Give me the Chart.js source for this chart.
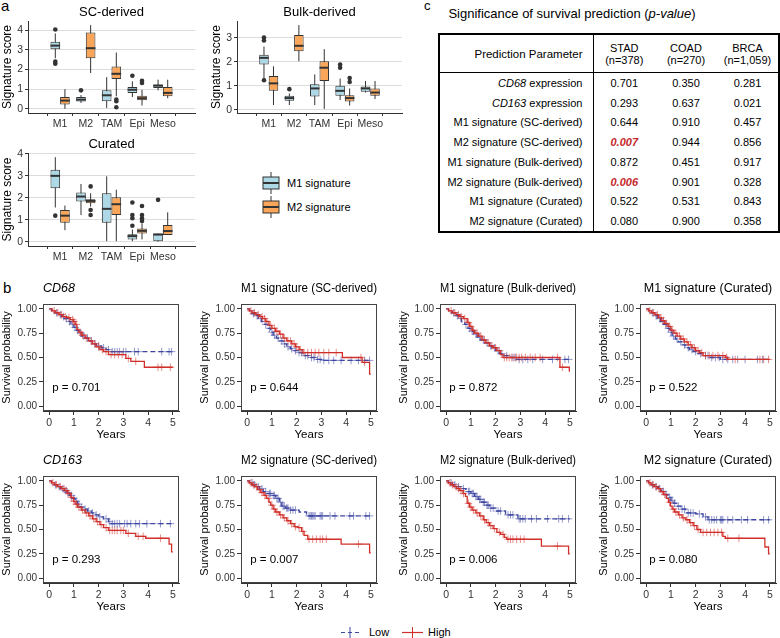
<!DOCTYPE html>
<html>
<head>
<meta charset="utf-8">
<script src="https://cdn.jsdelivr.net/npm/chart.js@4.4.1/dist/chart.umd.min.js"></script>
<style>
  body { margin: 0; background: #fff; font-family: 'Liberation Sans', Arial, Helvetica, sans-serif; }
  #fig { position: relative; width: 780px; height: 638px; overflow: hidden; background: #fff; color: #000; }
  #fig canvas { position: absolute; }
  .abs { position: absolute; white-space: nowrap; }
  .panel { font-size: 15px; }
  #tblTitle { left: 420px; top: 6px; width: 304px; text-align: center; font-size: 13px; }
  #tbl { position: absolute; left: 438px; top: 33px; width: 340px; height: 197px; border-collapse: collapse;
         border: 2px solid #000; font-size: 11px; table-layout: fixed; }
  #tbl td { padding: 0; text-align: center; height: 19.75px; }
  #tbl tr.hd td { height: 37px; border-bottom: 1.5px solid #000; line-height: 12px; }
  #tbl tr.hd td.par { font-size: 11.5px; }
  #tbl td.par { text-align: right; padding-right: 10px; border-right: 1.5px solid #000; }
  #tbl .sig { color: #c4282c; font-weight: bold; font-style: italic; }
  .leg { font-size: 11px; }
</style>
</head>
<body>
<div id="fig">
  <div class="abs panel" style="left:1px;top:-3px;">a</div>
  <div class="abs panel" style="left:3px;top:279px;">b</div>
  <div class="abs panel" style="left:424px;top:-2px;font-size:13px;">c</div>

  <canvas id="boxSC" width="199" height="133" style="left:0px;top:0px;"></canvas>
  <canvas id="boxBulk" width="197" height="133" style="left:209px;top:0px;"></canvas>
  <canvas id="boxCur" width="199" height="134" style="left:0px;top:132px;"></canvas>

  <!-- legend of panel a -->
  <svg class="abs" style="left:261px;top:172px;" width="20" height="22">
    <line x1="10" y1="0" x2="10" y2="22" stroke="#333" stroke-width="1"/>
    <rect x="2" y="5" width="16" height="12" fill="#add8e6" stroke="#333" stroke-width="1"/>
    <line x1="2" y1="11" x2="18" y2="11" stroke="#333" stroke-width="2"/>
  </svg>
  <div class="abs leg" style="left:287px;top:177px;">M1 signature</div>
  <svg class="abs" style="left:261px;top:196px;" width="20" height="22">
    <line x1="10" y1="0" x2="10" y2="22" stroke="#333" stroke-width="1"/>
    <rect x="2" y="5" width="16" height="12" fill="#f9a65a" stroke="#333" stroke-width="1"/>
    <line x1="2" y1="11" x2="18" y2="11" stroke="#333" stroke-width="2"/>
  </svg>
  <div class="abs leg" style="left:287px;top:201px;">M2 signature</div>

  <!-- panel c -->
  <div id="tblTitle" class="abs">Significance of survival prediction (<i>p-value</i>)</div>
  <table id="tbl">
    <colgroup><col style="width:154px"><col style="width:62px"><col style="width:62px"><col style="width:62px"></colgroup>
    <tr class="hd"><td class="par">Prediction Parameter</td><td>STAD<br>(n=378)</td><td>COAD<br>(n=270)</td><td>BRCA<br>(n=1,059)</td></tr>
    <tr><td class="par"><i>CD68</i> expression</td><td>0.701</td><td>0.350</td><td>0.281</td></tr>
    <tr><td class="par"><i>CD163</i> expression</td><td>0.293</td><td>0.637</td><td>0.021</td></tr>
    <tr><td class="par">M1 signature (SC-derived)</td><td>0.644</td><td>0.910</td><td>0.457</td></tr>
    <tr><td class="par">M2 signature (SC-derived)</td><td><span class="sig">0.007</span></td><td>0.944</td><td>0.856</td></tr>
    <tr><td class="par">M1 signature (Bulk-derived)</td><td>0.872</td><td>0.451</td><td>0.917</td></tr>
    <tr><td class="par">M2 signature (Bulk-derived)</td><td><span class="sig">0.006</span></td><td>0.901</td><td>0.328</td></tr>
    <tr><td class="par">M1 signature (Curated)</td><td>0.522</td><td>0.531</td><td>0.843</td></tr>
    <tr><td class="par">M2 signature (Curated)</td><td>0.080</td><td>0.900</td><td>0.358</td></tr>
  </table>

  <!-- panel b -->
  <canvas id="km1" width="184" height="162" style="left:0px;top:280px;"></canvas>
  <canvas id="km2" width="184" height="162" style="left:198px;top:280px;"></canvas>
  <canvas id="km3" width="184" height="162" style="left:397px;top:280px;"></canvas>
  <canvas id="km4" width="184" height="162" style="left:597px;top:280px;"></canvas>
  <canvas id="km5" width="184" height="162" style="left:0px;top:452px;"></canvas>
  <canvas id="km6" width="184" height="162" style="left:198px;top:452px;"></canvas>
  <canvas id="km7" width="184" height="162" style="left:397px;top:452px;"></canvas>
  <canvas id="km8" width="184" height="162" style="left:597px;top:452px;"></canvas>

  <!-- bottom legend -->
  <svg class="abs" style="left:341px;top:627px;" width="18" height="11">
    <line x1="0" y1="5.5" x2="18" y2="5.5" stroke="#3c46a0" stroke-width="1.2" stroke-dasharray="4,3"/>
    <line x1="9" y1="0" x2="9" y2="11" stroke="#3c46a0" stroke-width="1"/>
  </svg>
  <div class="abs leg" style="left:369px;top:626px;">Low</div>
  <svg class="abs" style="left:402px;top:627px;" width="21" height="11">
    <line x1="0" y1="5.5" x2="21" y2="5.5" stroke="#d1302a" stroke-width="1.2"/>
    <line x1="10.5" y1="0" x2="10.5" y2="11" stroke="#d1302a" stroke-width="1"/>
  </svg>
  <div class="abs leg" style="left:428px;top:626px;">High</div>
</div>

<script>
// ---------- panel a : box plots ----------
const boxCats = ['M1', 'M2', 'TAM', 'Epi', 'Meso'];
// each entry: [lower whisker, Q1, median, Q3, upper whisker]
const scM1Box = [[2.57, 3.03, 3.21, 3.41, 3.83], [0.30, 0.38, 0.47, 0.60, 0.70], [0.05, 0.39, 0.69, 0.94, 1.61], [0.60, 0.80, 0.97, 1.11, 1.40], [0.94, 1.06, 1.18, 1.24, 1.48]];
const scM1Out = [[4.03, 2.40, 2.29], [0.94], [], [1.68], []];
const scM2Box = [[0.00, 0.22, 0.42, 0.60, 1.00], [1.82, 2.57, 3.08, 3.88, 4.25], [0.64, 1.51, 1.78, 2.15, 2.86], [0.17, 0.44, 0.54, 0.66, 0.97], [0.54, 0.64, 0.81, 1.11, 1.48]];
const scM2Out = [[], [], [0.47, 0.39, 0.08], [1.43, 1.31], []];

const bulkM1Box = [[1.27, 1.88, 2.16, 2.29, 2.63], [0.20, 0.38, 0.49, 0.59, 0.68], [0.20, 0.56, 0.89, 1.06, 1.47], [0.41, 0.59, 0.79, 1.00, 1.30], [0.72, 0.75, 0.89, 0.97, 1.20]];
const bulkM1Out = [[3.00, 2.88, 1.23], [0.86], [], [1.88, 1.75], []];
const bulkM2Box = [[0.20, 0.79, 1.10, 1.41, 1.81], [2.02, 2.43, 2.66, 3.11, 3.52], [0.04, 1.20, 1.75, 2.02, 2.52], [0.18, 0.35, 0.49, 0.61, 0.89], [0.45, 0.59, 0.72, 0.89, 1.20]];
const bulkM2Out = [[], [], [], [1.32, 1.16], []];

const curM1Box = [[1.56, 2.44, 3.00, 3.28, 3.85], [1.22, 1.83, 2.06, 2.24, 2.63], [0.03, 0.87, 1.50, 2.21, 2.98], [0.03, 0.11, 0.26, 0.34, 0.56], [0.00, 0.00, 0.33, 0.38, 0.38]];
const curM1Out = [[1.19], [], [], [1.79, 1.22, 1.07, 0.73], [1.91]];
const curM2Box = [[0.53, 0.87, 1.19, 1.45, 1.65], [1.60, 1.76, 1.86, 1.94, 2.21], [0.03, 1.22, 1.71, 2.03, 2.37], [0.11, 0.38, 0.50, 0.61, 0.84], [0.31, 0.31, 0.49, 0.76, 1.34]];
const curM2Out = [[], [2.52, 1.45, 1.22], [], [1.63, 1.22, 1.07, 0.95], []];

// ---------- panel b : Kaplan-Meier curves (step times / survival after step / censor times) ----------
const cd68HighT = [0, 0.12, 0.25, 0.4, 0.55, 0.7, 0.85, 0.98, 1.05, 1.12, 1.2, 1.3, 1.45, 1.6, 1.75, 1.9, 2.05, 2.2, 2.4, 3.1, 3.3, 3.85, 5.0];
const cd68HighS = [1, 0.98, 0.96, 0.94, 0.92, 0.91, 0.89, 0.87, 0.84, 0.79, 0.76, 0.73, 0.70, 0.67, 0.64, 0.61, 0.58, 0.56, 0.53, 0.49, 0.46, 0.40, 0.40];
const cd68HighC = [0.2, 0.35, 0.5, 0.65, 0.8, 0.95, 1.0, 1.1, 1.25, 1.35, 1.5, 1.7, 1.85, 2.0, 2.15, 2.3, 2.5, 2.65, 2.8, 2.95, 3.2, 3.5, 4.4, 4.55, 4.9];
const cd68LowT = [0, 0.1, 0.22, 0.35, 0.5, 0.62, 0.75, 0.88, 1.0, 1.1, 1.2, 1.32, 1.45, 1.6, 1.75, 1.9, 2.1, 2.3, 2.5, 5.0];
const cd68LowS = [1, 0.98, 0.96, 0.94, 0.92, 0.90, 0.87, 0.84, 0.81, 0.78, 0.75, 0.72, 0.70, 0.67, 0.64, 0.62, 0.60, 0.58, 0.56, 0.56];
const cd68LowC = [0.3, 0.45, 0.58, 0.7, 0.82, 0.95, 1.05, 1.15, 1.28, 1.4, 1.55, 1.7, 1.85, 2.0, 2.2, 2.4, 2.55, 2.65, 2.75, 2.85, 3.0, 3.1, 3.45, 3.6, 4.55, 4.85, 4.95];

const m1scHighT = [0, 0.08, 0.2, 0.35, 0.5, 0.62, 0.75, 0.88, 1.0, 1.15, 1.3, 1.45, 1.6, 1.8, 1.95, 2.1, 2.25, 3.85, 4.65, 4.95, 5.0];
const m1scHighS = [1, 0.98, 0.96, 0.94, 0.92, 0.90, 0.87, 0.83, 0.80, 0.77, 0.74, 0.70, 0.67, 0.64, 0.61, 0.58, 0.55, 0.50, 0.45, 0.33, 0.33];
const m1scHighC = [0.15, 0.3, 0.45, 0.6, 0.7, 0.8, 0.95, 1.1, 1.2, 1.35, 1.5, 1.65, 1.75, 1.9, 2.0, 2.15, 2.3, 2.45, 2.6, 2.75, 2.9, 3.1, 3.3, 3.6, 4.6, 4.75];
const m1scLowT = [0, 0.1, 0.2, 0.32, 0.45, 0.58, 0.7, 0.82, 0.95, 1.05, 1.18, 1.3, 1.45, 1.6, 1.75, 1.9, 2.05, 2.25, 2.5, 2.75, 3.0, 5.0];
const m1scLowS = [1, 0.98, 0.95, 0.93, 0.90, 0.87, 0.84, 0.80, 0.76, 0.73, 0.70, 0.67, 0.64, 0.61, 0.59, 0.57, 0.55, 0.52, 0.50, 0.48, 0.47, 0.47];
const m1scLowC = [0.25, 0.4, 0.55, 0.75, 0.9, 1.0, 1.1, 1.25, 1.4, 1.5, 1.65, 1.8, 1.95, 2.1, 2.2, 2.35, 2.45, 2.6, 2.7, 2.85, 2.95, 3.1, 3.3, 3.5, 3.8, 4.2, 4.5, 4.75, 4.95];

const m1bkHighT = [0, 0.1, 0.25, 0.4, 0.55, 0.7, 0.85, 0.95, 1.05, 1.15, 1.3, 1.45, 1.6, 1.75, 1.9, 2.05, 2.2, 2.3, 4.6, 4.98, 5.0];
const m1bkHighS = [1, 0.98, 0.96, 0.94, 0.92, 0.90, 0.86, 0.82, 0.78, 0.75, 0.72, 0.68, 0.65, 0.62, 0.60, 0.57, 0.53, 0.50, 0.40, 0.36, 0.36];
const m1bkHighC = [0.2, 0.35, 0.5, 0.6, 0.75, 0.9, 1.0, 1.1, 1.25, 1.4, 1.55, 1.7, 1.85, 2.0, 2.15, 2.35, 2.45, 2.55, 2.65, 2.75, 2.85, 2.95, 3.05, 3.2, 3.4, 3.6, 3.8, 4.5, 4.7];
const m1bkLowT = [0, 0.1, 0.22, 0.35, 0.5, 0.62, 0.75, 0.88, 1.0, 1.12, 1.25, 1.4, 1.55, 1.7, 1.85, 2.0, 2.15, 2.35, 2.6, 2.85, 5.0];
const m1bkLowS = [1, 0.98, 0.96, 0.93, 0.90, 0.87, 0.84, 0.80, 0.77, 0.74, 0.71, 0.68, 0.65, 0.62, 0.60, 0.57, 0.54, 0.52, 0.50, 0.48, 0.48];
const m1bkLowC = [0.3, 0.45, 0.6, 0.8, 0.95, 1.05, 1.2, 1.35, 1.5, 1.65, 1.8, 1.95, 2.1, 2.25, 2.45, 2.7, 2.8, 2.95, 3.1, 3.3, 3.5, 3.9, 4.3, 4.8, 4.95];

const m1cuHighT = [0, 0.1, 0.22, 0.35, 0.5, 0.62, 0.75, 0.88, 1.0, 1.12, 1.25, 1.4, 1.55, 1.7, 1.85, 2.0, 2.15, 2.3, 3.2, 3.3, 5.0];
const m1cuHighS = [1, 0.98, 0.96, 0.94, 0.91, 0.88, 0.85, 0.82, 0.78, 0.75, 0.72, 0.69, 0.66, 0.63, 0.60, 0.57, 0.55, 0.52, 0.50, 0.48, 0.48];
const m1cuHighC = [0.15, 0.3, 0.45, 0.6, 0.7, 0.8, 0.95, 1.05, 1.2, 1.35, 1.5, 1.65, 1.8, 1.95, 2.1, 2.25, 2.4, 2.55, 2.7, 2.9, 3.1, 3.25, 3.6, 4.6, 4.75, 4.95];
const m1cuLowT = [0, 0.1, 0.2, 0.32, 0.45, 0.58, 0.7, 0.82, 0.95, 1.05, 1.18, 1.3, 1.45, 1.6, 1.75, 1.9, 2.05, 2.3, 2.6, 3.0, 5.0];
const m1cuLowS = [1, 0.98, 0.96, 0.93, 0.90, 0.87, 0.84, 0.80, 0.76, 0.72, 0.69, 0.66, 0.63, 0.60, 0.58, 0.56, 0.54, 0.52, 0.50, 0.48, 0.48];
const m1cuLowC = [0.25, 0.4, 0.55, 0.68, 0.8, 0.9, 1.0, 1.1, 1.25, 1.4, 1.55, 1.7, 1.85, 2.0, 2.2, 2.4, 2.5, 2.65, 2.8, 2.95, 3.1, 3.3, 3.5, 3.7, 4.0, 4.5, 4.7];

const cd163HighT = [0, 0.1, 0.22, 0.35, 0.5, 0.62, 0.75, 0.88, 0.98, 1.05, 1.15, 1.3, 1.45, 1.6, 1.75, 1.9, 2.05, 2.2, 2.4, 3.1, 3.5, 3.9, 4.85, 4.95, 5.0];
const cd163HighS = [1, 0.98, 0.96, 0.94, 0.92, 0.90, 0.87, 0.83, 0.79, 0.76, 0.73, 0.70, 0.67, 0.64, 0.61, 0.58, 0.55, 0.52, 0.49, 0.46, 0.43, 0.41, 0.35, 0.27, 0.27];
const cd163HighC = [0.15, 0.3, 0.45, 0.6, 0.7, 0.8, 0.9, 1.0, 1.1, 1.2, 1.35, 1.5, 1.65, 1.8, 1.95, 2.1, 2.3, 2.45, 2.55, 2.65, 2.75, 2.9, 3.0, 3.2, 3.6, 3.8, 4.5];
const cd163LowT = [0, 0.1, 0.2, 0.32, 0.45, 0.58, 0.7, 0.82, 0.95, 1.05, 1.15, 1.25, 1.4, 1.55, 1.7, 1.85, 2.0, 2.2, 2.4, 2.5, 5.0];
const cd163LowS = [1, 0.98, 0.96, 0.94, 0.92, 0.90, 0.88, 0.85, 0.82, 0.79, 0.76, 0.73, 0.71, 0.69, 0.67, 0.65, 0.63, 0.61, 0.58, 0.56, 0.56];
const cd163LowC = [0.25, 0.4, 0.55, 0.65, 0.75, 0.9, 1.0, 1.1, 1.2, 1.3, 1.45, 1.6, 1.75, 1.9, 2.05, 2.3, 2.45, 2.55, 2.65, 2.75, 2.85, 3.05, 3.15, 3.3, 3.5, 3.65, 3.95, 4.5, 4.9];

const m2scHighT = [0, 0.08, 0.18, 0.3, 0.42, 0.55, 0.68, 0.78, 0.88, 0.95, 1.05, 1.15, 1.3, 1.45, 1.6, 1.75, 1.9, 2.05, 2.2, 2.3, 2.45, 3.8, 4.95, 5.0];
const m2scHighS = [1, 0.98, 0.96, 0.94, 0.91, 0.88, 0.85, 0.82, 0.78, 0.75, 0.71, 0.68, 0.65, 0.62, 0.59, 0.56, 0.53, 0.52, 0.48, 0.44, 0.40, 0.35, 0.26, 0.26];
const m2scHighC = [0.15, 0.25, 0.38, 0.5, 0.6, 0.72, 0.85, 1.0, 1.1, 1.2, 1.35, 1.5, 1.65, 1.8, 1.95, 2.1, 2.25, 2.5, 2.65, 2.8, 2.95, 3.05, 3.2, 4.5];
const m2scLowT = [0, 0.1, 0.22, 0.35, 0.5, 0.65, 0.8, 1.0, 1.15, 1.3, 1.4, 1.55, 1.7, 2.1, 2.4, 5.0];
const m2scLowS = [1, 0.98, 0.96, 0.94, 0.92, 0.89, 0.87, 0.85, 0.82, 0.78, 0.74, 0.72, 0.70, 0.68, 0.64, 0.64];
const m2scLowC = [0.2, 0.3, 0.45, 0.6, 0.75, 0.9, 0.95, 1.05, 1.1, 1.2, 1.25, 1.35, 1.45, 1.5, 1.6, 1.65, 1.75, 1.85, 1.95, 2.5, 2.55, 2.6, 2.65, 2.7, 2.75, 2.95, 3.0, 3.05, 3.35, 3.55, 4.15, 4.3, 4.8, 4.95];

const m2bkHighT = [0, 0.08, 0.18, 0.3, 0.42, 0.55, 0.68, 0.78, 0.85, 0.95, 1.05, 1.2, 1.35, 1.5, 1.62, 1.75, 1.9, 2.05, 2.2, 2.35, 2.45, 3.85, 4.95, 5.0];
const m2bkHighS = [1, 0.98, 0.96, 0.94, 0.92, 0.90, 0.87, 0.84, 0.77, 0.73, 0.70, 0.67, 0.64, 0.60, 0.57, 0.54, 0.51, 0.47, 0.45, 0.42, 0.40, 0.33, 0.25, 0.25];
const m2bkHighC = [0.15, 0.25, 0.4, 0.5, 0.6, 0.7, 0.9, 1.0, 1.1, 1.25, 1.4, 1.55, 1.7, 1.8, 1.95, 2.15, 2.3, 2.5, 2.6, 2.7, 2.85, 3.0, 3.15, 4.5];
const m2bkLowT = [0, 0.1, 0.25, 0.4, 0.6, 0.8, 1.0, 1.15, 1.3, 1.45, 1.6, 1.75, 2.0, 2.4, 2.9, 5.0];
const m2bkLowS = [1, 0.98, 0.96, 0.94, 0.92, 0.89, 0.87, 0.84, 0.81, 0.78, 0.75, 0.72, 0.69, 0.65, 0.61, 0.61];
const m2bkLowC = [0.2, 0.35, 0.5, 0.7, 0.9, 0.95, 1.05, 1.1, 1.2, 1.25, 1.35, 1.4, 1.5, 1.55, 1.65, 1.7, 1.8, 1.9, 2.1, 2.2, 2.5, 2.6, 2.7, 2.95, 3.0, 3.1, 3.2, 3.45, 3.65, 4.1, 4.55, 4.7, 4.95];

const m2cuHighT = [0, 0.1, 0.2, 0.32, 0.45, 0.58, 0.7, 0.82, 0.9, 0.98, 1.05, 1.15, 1.3, 1.45, 1.6, 1.75, 1.9, 2.05, 2.2, 3.1, 3.2, 4.8, 4.95, 5.0];
const m2cuHighS = [1, 0.98, 0.96, 0.94, 0.92, 0.89, 0.86, 0.82, 0.78, 0.74, 0.71, 0.68, 0.65, 0.62, 0.60, 0.57, 0.54, 0.50, 0.47, 0.43, 0.41, 0.32, 0.25, 0.25];
const m2cuHighC = [0.15, 0.28, 0.4, 0.52, 0.65, 0.75, 0.95, 1.1, 1.2, 1.35, 1.5, 1.65, 1.8, 1.95, 2.1, 2.3, 2.45, 2.6, 2.75, 2.9, 3.05, 3.3, 3.75];
const m2cuLowT = [0, 0.1, 0.22, 0.35, 0.5, 0.62, 0.75, 0.88, 1.0, 1.12, 1.25, 1.4, 1.6, 2.0, 2.3, 2.5, 5.0];
const m2cuLowS = [1, 0.98, 0.96, 0.94, 0.92, 0.89, 0.86, 0.83, 0.80, 0.77, 0.74, 0.71, 0.67, 0.66, 0.63, 0.60, 0.60];
const m2cuLowC = [0.25, 0.4, 0.55, 0.7, 0.8, 0.95, 1.05, 1.15, 1.3, 1.45, 1.55, 1.7, 1.8, 1.9, 2.15, 2.4, 2.55, 2.65, 2.75, 2.85, 3.0, 3.05, 3.1, 3.3, 3.5, 3.85, 4.1, 4.75, 4.95];

// ---------- styling ----------
const FONT = "'Liberation Sans', Arial, Helvetica, sans-serif";
const M1_FILL = '#add8e6';
const M2_FILL = '#f9a65a';
const RED = '#d1302a';
const BLUE = '#3c46a0';
const RED_CENS = 'rgba(209, 48, 42, 0.55)';
const BLUE_CENS = 'rgba(60, 70, 160, 0.55)';
Chart.defaults.font.family = FONT;
Chart.defaults.color = '#333';

// whiskers, medians and outliers drawn around the native floating bars (the boxes)
const boxExtras = {
    id: 'boxExtras',
    beforeDatasetsDraw(chart) {
        const ctx = chart.ctx, y = chart.scales.y;
        chart.data.datasets.forEach((ds, di) => {
            chart.getDatasetMeta(di).data.forEach((bar, i) => {
                const st = ds.stats[i];
                ctx.save();
                ctx.strokeStyle = '#333';
                ctx.lineWidth = 1;
                ctx.beginPath();
                ctx.moveTo(bar.x, y.getPixelForValue(st[0]));
                ctx.lineTo(bar.x, y.getPixelForValue(st[4]));
                ctx.stroke();
                ctx.restore();
            });
        });
    },
    afterDatasetsDraw(chart) {
        const ctx = chart.ctx, y = chart.scales.y;
        chart.data.datasets.forEach((ds, di) => {
            chart.getDatasetMeta(di).data.forEach((bar, i) => {
                const st = ds.stats[i];
                ctx.save();
                ctx.strokeStyle = '#333';
                ctx.lineWidth = 2;
                ctx.beginPath();
                ctx.moveTo(bar.x - bar.width / 2, y.getPixelForValue(st[2]));
                ctx.lineTo(bar.x + bar.width / 2, y.getPixelForValue(st[2]));
                ctx.stroke();
                ctx.fillStyle = '#333';
                ds.outs[i].forEach(v => {
                    ctx.beginPath();
                    ctx.arc(bar.x, y.getPixelForValue(v), 2.3, 0, Math.PI * 2);
                    ctx.fill();
                });
                ctx.restore();
            });
        });
    }
};

function makeBoxChart(id, title, m1Box, m1Out, m2Box, m2Out, yMin, yMax) {
    const toBars = arr => arr.map((b, i) => ({ x: i + 1, y: [b[1], b[3]] }));
    new Chart(document.getElementById(id), {
        type: 'bar',
        data: {
            datasets: [
                { label: 'M1 signature', data: toBars(m1Box), stats: m1Box, outs: m1Out,
                  backgroundColor: M1_FILL, borderColor: '#333', borderWidth: 1, borderSkipped: false },
                { label: 'M2 signature', data: toBars(m2Box), stats: m2Box, outs: m2Out,
                  backgroundColor: M2_FILL, borderColor: '#333', borderWidth: 1, borderSkipped: false }
            ]
        },
        options: {
            responsive: false,
            animation: false,
            layout: { padding: { left: 0, right: 4, top: 0, bottom: 0 } },
            datasets: { bar: { categoryPercentage: 0.75, barPercentage: 1 } },
            plugins: {
                legend: { display: false },
                tooltip: { enabled: false },
                title: { display: true, text: title, fullSize: false, color: '#000',
                         font: { size: 13, weight: 'normal' }, padding: { top: 5, bottom: 0.4 } }
            },
            scales: {
                x: {
                    type: 'linear', min: 0.4, max: 5.6,
                    afterFit: s => { s.height = 20; },
                    grid: { drawOnChartArea: false, tickLength: 3, color: '#333' },
                    border: { color: '#333' },
                    ticks: { stepSize: 1, includeBounds: false, autoSkip: false, maxRotation: 0, padding: 2,
                             font: { size: 10.5 }, callback: v => boxCats[v - 1] }
                },
                y: {
                    min: yMin, max: yMax,
                    afterFit: s => { s.width = 28; },
                    grid: { color: '#dcdcdc', tickColor: '#333', tickLength: 3 },
                    border: { color: '#333' },
                    ticks: { stepSize: 1, includeBounds: false, padding: 2, font: { size: 10.5 } },
                    title: { display: true, text: 'Signature score', padding: 0, color: '#000', font: { size: 12 } }
                }
            }
        },
        plugins: [boxExtras]
    });
}

makeBoxChart('boxSC', 'SC-derived', scM1Box, scM1Out, scM2Box, scM2Out, -0.21, 4.46);
makeBoxChart('boxBulk', 'Bulk-derived', bulkM1Box, bulkM1Out, bulkM2Box, bulkM2Out, -0.13, 3.69);
makeBoxChart('boxCur', 'Curated', curM1Box, curM1Out, curM2Box, curM2Out, -0.19, 4.04);

// ---------- KM plots ----------
function stepAt(T, S, t) {
    let v = S[0];
    for (let i = 0; i < T.length; i++) if (T[i] <= t) v = S[i];
    return v;
}

// panel frame + p value text
const kmExtras = {
    id: 'kmExtras',
    beforeDatasetsDraw(chart) {
        const a = chart.chartArea, ctx = chart.ctx;
        ctx.save();
        ctx.strokeStyle = '#444';
        ctx.lineWidth = 1;
        ctx.strokeRect(a.left + 0.5, a.top + 0.5, a.right - a.left - 1, a.bottom - a.top - 1);
        ctx.restore();
    },
    afterDatasetsDraw(chart, args, opts) {
        const ctx = chart.ctx;
        ctx.save();
        ctx.fillStyle = '#000';
        ctx.font = '11.5px ' + FONT;
        ctx.textBaseline = 'middle';
        ctx.fillText(opts.text, chart.scales.x.getPixelForValue(0.12), chart.scales.y.getPixelForValue(0.19));
        ctx.restore();
    }
};

function makeKMChart(id, title, italic, pText, hT, hS, hC, lT, lS, lC) {
    const line = (T, S) => T.map((t, i) => ({ x: t, y: S[i] }));
    const cens = (T, S, C) => C.map(t => ({ x: t, y: stepAt(T, S, t) }));
    new Chart(document.getElementById(id), {
        type: 'line',
        data: {
            datasets: [
                { label: 'High', data: line(hT, hS), stepped: true, borderColor: RED, borderWidth: 1.3, pointRadius: 0, fill: false },
                { label: 'High censor', data: cens(hT, hS, hC), showLine: false, pointStyle: 'cross', pointRadius: 3.8,
                  pointBorderColor: RED_CENS, pointBorderWidth: 1 },
                { label: 'Low', data: line(lT, lS), stepped: true, borderColor: BLUE, borderWidth: 1.3, borderDash: [5, 3], pointRadius: 0, fill: false },
                { label: 'Low censor', data: cens(lT, lS, lC), showLine: false, pointStyle: 'cross', pointRadius: 3.8,
                  pointBorderColor: BLUE_CENS, pointBorderWidth: 1 }
            ]
        },
        options: {
            responsive: false,
            animation: false,
            layout: { padding: { left: 0, right: 3, top: 0, bottom: 0 } },
            plugins: {
                legend: { display: false },
                tooltip: { enabled: false },
                title: { display: true, text: title, fullSize: false, align: italic ? 'start' : 'center', color: '#000',
                         font: { size: 12.5, weight: 'normal', style: italic ? 'italic' : 'normal' },
                         padding: { top: 1.5, bottom: 7.5 } },
                kmExtras: { text: pText }
            },
            scales: {
                x: {
                    type: 'linear', min: -0.25, max: 5.25,
                    afterFit: s => { s.height = 31; },
                    grid: { drawOnChartArea: false, tickLength: 4, color: '#333' },
                    border: { color: '#333' },
                    ticks: { stepSize: 1, includeBounds: false, maxRotation: 0, padding: 2, font: { size: 10.5 } },
                    title: { display: true, text: 'Years', padding: 0, color: '#000', font: { size: 11.5 } }
                },
                y: {
                    min: -0.05, max: 1.05,
                    afterFit: s => { s.width = 43; },
                    grid: { drawOnChartArea: false, tickLength: 4, color: '#333' },
                    border: { color: '#333' },
                    ticks: { stepSize: 0.25, includeBounds: false, padding: 2, font: { size: 10 }, callback: v => v.toFixed(2) },
                    title: { display: true, text: 'Survival probability', padding: 0, color: '#000', font: { size: 11 } }
                }
            }
        },
        plugins: [kmExtras]
    });
}

makeKMChart('km1', 'CD68', true, 'p = 0.701', cd68HighT, cd68HighS, cd68HighC, cd68LowT, cd68LowS, cd68LowC);
makeKMChart('km2', 'M1 signature (SC-derived)', false, 'p = 0.644', m1scHighT, m1scHighS, m1scHighC, m1scLowT, m1scLowS, m1scLowC);
makeKMChart('km3', 'M1 signature (Bulk-derived)', false, 'p = 0.872', m1bkHighT, m1bkHighS, m1bkHighC, m1bkLowT, m1bkLowS, m1bkLowC);
makeKMChart('km4', 'M1 signature (Curated)', false, 'p = 0.522', m1cuHighT, m1cuHighS, m1cuHighC, m1cuLowT, m1cuLowS, m1cuLowC);
makeKMChart('km5', 'CD163', true, 'p = 0.293', cd163HighT, cd163HighS, cd163HighC, cd163LowT, cd163LowS, cd163LowC);
makeKMChart('km6', 'M2 signature (SC-derived)', false, 'p = 0.007', m2scHighT, m2scHighS, m2scHighC, m2scLowT, m2scLowS, m2scLowC);
makeKMChart('km7', 'M2 signature (Bulk-derived)', false, 'p = 0.006', m2bkHighT, m2bkHighS, m2bkHighC, m2bkLowT, m2bkLowS, m2bkLowC);
makeKMChart('km8', 'M2 signature (Curated)', false, 'p = 0.080', m2cuHighT, m2cuHighS, m2cuHighC, m2cuLowT, m2cuLowS, m2cuLowC);
</script>
</body>
</html>
